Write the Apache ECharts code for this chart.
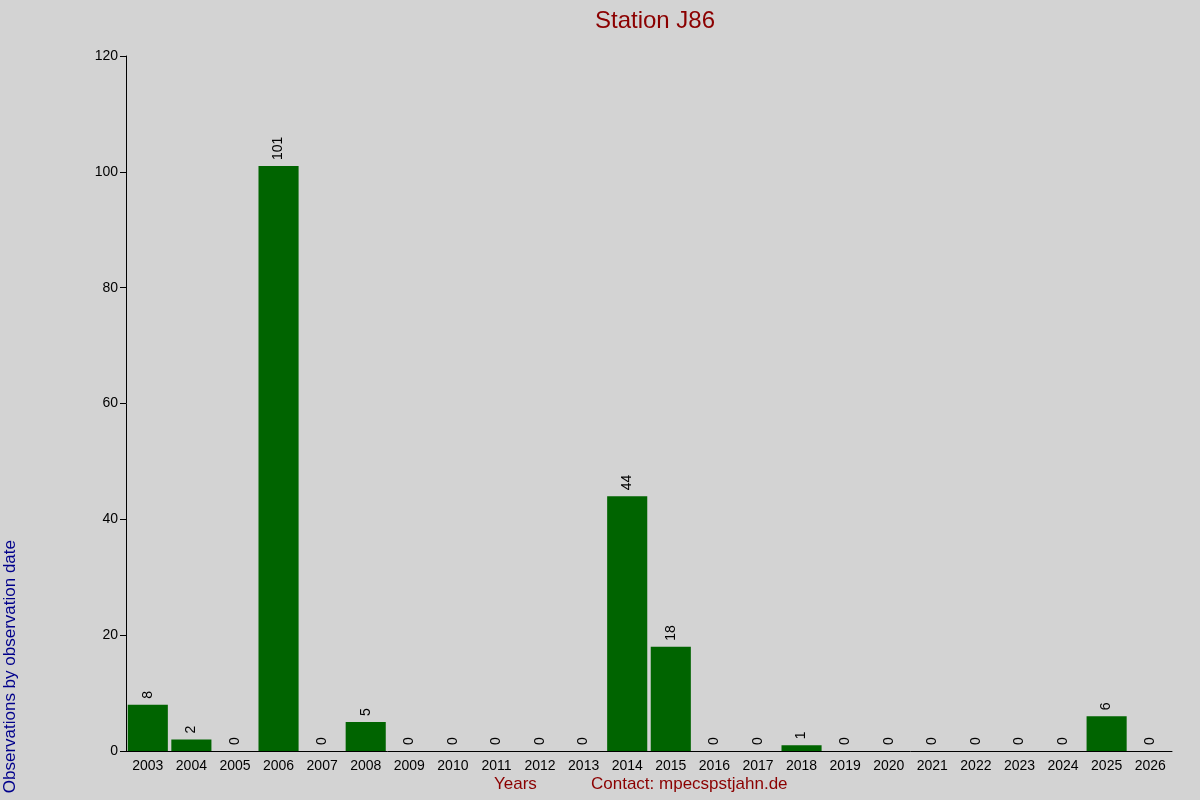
<!DOCTYPE html>
<html><head><meta charset="utf-8">
<script src="https://cdn.jsdelivr.net/npm/echarts@6/dist/echarts.min.js"></script>
<style>html,body{margin:0;padding:0;background:#d3d3d3}#c{width:1200px;height:800px}</style>
</head><body><div id="c"></div>
<script>
const years = ['2003','2004','2005','2006','2007','2008','2009','2010','2011','2012','2013','2014','2015','2016','2017','2018','2019','2020','2021','2022','2023','2024','2025','2026'];
const counts = [8,2,0,101,0,5,0,0,0,0,0,44,18,0,0,1,0,0,0,0,0,0,6,0];
const yTicks = [0,20,40,60,80,100,120];
const chart = echarts.init(document.getElementById('c'));
chart.setOption({
  backgroundColor:'#d3d3d3',
  animation:false,
  title:{text:'Station J86',left:650,top:4,textAlign:'center',textStyle:{color:'#8b0000',fontSize:24,fontWeight:'normal',fontFamily:'Liberation Sans'}},
  grid:{left:126,right:28,top:56,bottom:49},
  xAxis:{type:'category',data:years,
    axisLine:{lineStyle:{color:'#000'}},axisTick:{show:false},
    axisLabel:{color:'#000',fontSize:14,fontFamily:'Liberation Sans',margin:8,interval:0}},
  yAxis:{type:'value',min:0,max:120,interval:20,
    axisLine:{show:true,lineStyle:{color:'#000'}},axisTick:{show:true,length:6,lineStyle:{color:'#000'}},
    splitLine:{show:false},
    axisLabel:{color:'#000',fontSize:14,fontFamily:'Liberation Sans',formatter:v=>yTicks.includes(v)?String(v):''}},
  series:[{type:'bar',data:counts,barCategoryGap:'8%',itemStyle:{color:'#006400'},
    label:{show:true,position:'top',rotate:90,align:'left',verticalAlign:'middle',distance:6,color:'#000',fontSize:14,fontFamily:'Liberation Sans'}}],
  graphic:[
    {type:'text',left:2,top:540,rotation:Math.PI/2,style:{text:'Observations by observation date',fill:'#00008b',fontSize:17,fontFamily:'Liberation Sans'},
     x:2,y:540},
    {type:'text',left:494,top:776,style:{text:'Years',fill:'#8b0000',fontSize:17,fontFamily:'Liberation Sans'}},
    {type:'text',left:591,top:776,style:{text:'Contact: mpecspstjahn.de',fill:'#8b0000',fontSize:17,fontFamily:'Liberation Sans'}}
  ]
});
</script></body></html>
